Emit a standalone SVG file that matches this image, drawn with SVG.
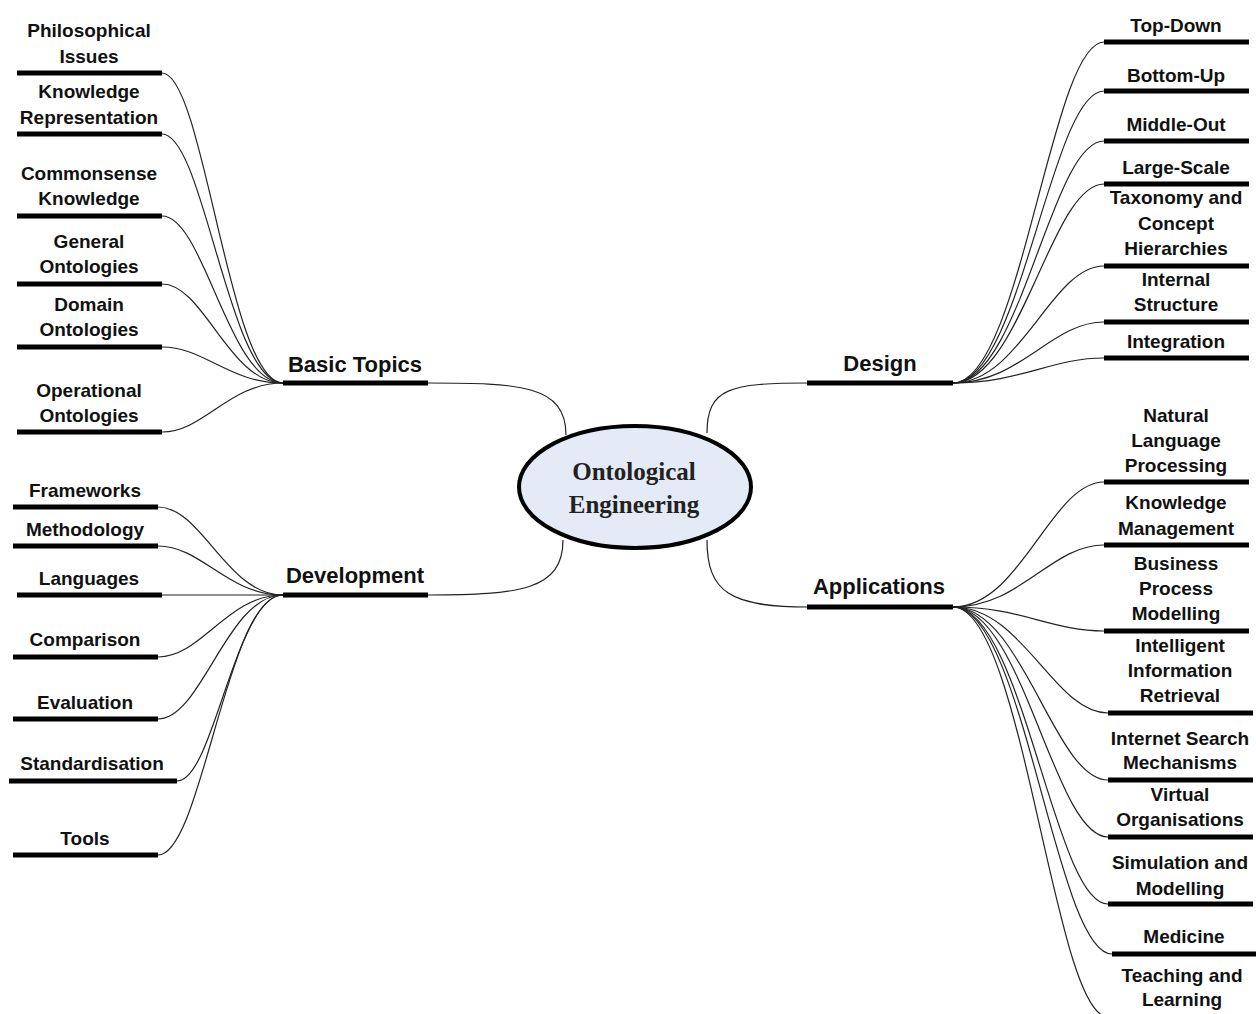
<svg xmlns="http://www.w3.org/2000/svg" width="1256" height="1014" viewBox="0 0 1256 1014">
<style>
.t{font-family:"Liberation Sans",Arial,sans-serif;font-weight:bold;font-size:19px;fill:#111;text-anchor:middle}
.b{font-family:"Liberation Sans",Arial,sans-serif;font-weight:bold;font-size:22px;fill:#111;text-anchor:middle}
.c{font-family:"Liberation Serif","Times New Roman",serif;font-weight:bold;font-size:25px;fill:#222;text-anchor:middle}
.u{stroke:#000;stroke-width:5;fill:none}
.l{stroke:#222;stroke-width:1.2;fill:none}
</style>
<rect width="1256" height="1014" fill="#fff"/>
<g id="connectors">
<path class="l" d="M428 383 C520 383 566 385 566 435"/>
<path class="l" d="M428 595 C520 595 563 590 563 540"/>
<path class="l" d="M707 433 C707 388 730 383 808 383"/>
<path class="l" d="M707 540 C707 592 730 607 808 607"/>
<path class="l" d="M162 73 C204 73 229 383 283 383"/>
<path class="l" d="M162 134 C204 134 229 383 283 383"/>
<path class="l" d="M162 216 C204 216 229 383 283 383"/>
<path class="l" d="M162 284 C204 284 229 383 283 383"/>
<path class="l" d="M162 347 C204 347 229 383 283 383"/>
<path class="l" d="M162 432 C204 432 229 383 283 383"/>
<path class="l" d="M158 507 C202 507 227 595 283 595"/>
<path class="l" d="M158 546 C202 546 227 595 283 595"/>
<path class="l" d="M162 595 L283 595"/>
<path class="l" d="M158 657 C202 657 227 595 283 595"/>
<path class="l" d="M158 719 C202 719 227 595 283 595"/>
<path class="l" d="M177 781 C214 781 235 595 283 595"/>
<path class="l" d="M158 855 C202 855 227 595 283 595"/>
<path class="l" d="M953 383 C1021 383 1051 42 1104 42"/>
<path class="l" d="M953 383 C1021 383 1051 91 1104 91"/>
<path class="l" d="M953 383 C1021 383 1051 141 1104 141"/>
<path class="l" d="M953 383 C1021 383 1051 184 1104 184"/>
<path class="l" d="M953 383 C1021 383 1051 266 1104 266"/>
<path class="l" d="M953 383 C1021 383 1051 322 1104 322"/>
<path class="l" d="M953 383 C1021 383 1051 358 1104 358"/>
<path class="l" d="M953 607 C1021 607 1051 482 1104 482"/>
<path class="l" d="M953 607 C1021 607 1051 545 1104 545"/>
<path class="l" d="M953 607 C1021 607 1051 631 1104 631"/>
<path class="l" d="M953 607 C1023 607 1054 713 1108 713"/>
<path class="l" d="M953 607 C1023 607 1054 780 1108 780"/>
<path class="l" d="M953 607 C1023 607 1054 837 1108 837"/>
<path class="l" d="M953 607 C1023 607 1054 904 1108 904"/>
<path class="l" d="M953 607 C1024 607 1056 954 1112 954"/>
<path class="l" d="M953 607 C1023 607 1054 1017 1108 1017"/>
</g>
<g id="center">
<ellipse cx="635" cy="487" rx="116" ry="61" fill="#e4ebf6" stroke="#000" stroke-width="4"/>
<text class="c" x="634" y="480">Ontological</text>
<text class="c" x="634" y="513">Engineering</text>
</g>
<g id="basic-topics"><line class="u" x1="283" y1="383" x2="428" y2="383"/><text class="b" x="355" y="372">Basic Topics</text></g>
<g id="development"><line class="u" x1="283" y1="595" x2="428" y2="595"/><text class="b" x="355" y="583">Development</text></g>
<g id="design"><line class="u" x1="807" y1="383" x2="953" y2="383"/><text class="b" x="880" y="371">Design</text></g>
<g id="applications"><line class="u" x1="807" y1="607" x2="953" y2="607"/><text class="b" x="879" y="594">Applications</text></g>

<g id="philosophical-issues"><line class="u" x1="17" y1="73" x2="162" y2="73"/><text class="t" x="89" y="37">Philosophical</text><text class="t" x="89" y="63">Issues</text></g>
<g id="knowledge-representation"><line class="u" x1="17" y1="134" x2="162" y2="134"/><text class="t" x="89" y="98">Knowledge</text><text class="t" x="89" y="124">Representation</text></g>
<g id="commonsense-knowledge"><line class="u" x1="17" y1="216" x2="162" y2="216"/><text class="t" x="89" y="180">Commonsense</text><text class="t" x="89" y="205">Knowledge</text></g>
<g id="general-ontologies"><line class="u" x1="17" y1="284" x2="162" y2="284"/><text class="t" x="89" y="248">General</text><text class="t" x="89" y="273">Ontologies</text></g>
<g id="domain-ontologies"><line class="u" x1="17" y1="347" x2="162" y2="347"/><text class="t" x="89" y="311">Domain</text><text class="t" x="89" y="336">Ontologies</text></g>
<g id="operational-ontologies"><line class="u" x1="17" y1="432" x2="162" y2="432"/><text class="t" x="89" y="397">Operational</text><text class="t" x="89" y="422">Ontologies</text></g>

<g id="frameworks"><line class="u" x1="13" y1="507" x2="158" y2="507"/><text class="t" x="85" y="497">Frameworks</text></g>
<g id="methodology"><line class="u" x1="13" y1="546" x2="158" y2="546"/><text class="t" x="85" y="536">Methodology</text></g>
<g id="languages"><line class="u" x1="17" y1="595" x2="162" y2="595"/><text class="t" x="89" y="585">Languages</text></g>
<g id="comparison"><line class="u" x1="13" y1="657" x2="158" y2="657"/><text class="t" x="85" y="646">Comparison</text></g>
<g id="evaluation"><line class="u" x1="13" y1="719" x2="158" y2="719"/><text class="t" x="85" y="709">Evaluation</text></g>
<g id="standardisation"><line class="u" x1="9" y1="781" x2="177" y2="781"/><text class="t" x="92" y="770">Standardisation</text></g>
<g id="tools"><line class="u" x1="13" y1="855" x2="158" y2="855"/><text class="t" x="85" y="845">Tools</text></g>

<g id="top-down"><line class="u" x1="1104" y1="42" x2="1249" y2="42"/><text class="t" x="1176" y="32">Top-Down</text></g>
<g id="bottom-up"><line class="u" x1="1104" y1="91" x2="1249" y2="91"/><text class="t" x="1176" y="82">Bottom-Up</text></g>
<g id="middle-out"><line class="u" x1="1104" y1="141" x2="1249" y2="141"/><text class="t" x="1176" y="131">Middle-Out</text></g>
<g id="large-scale"><line class="u" x1="1104" y1="184" x2="1249" y2="184"/><text class="t" x="1176" y="174">Large-Scale</text></g>
<g id="taxonomy"><line class="u" x1="1104" y1="266" x2="1249" y2="266"/><text class="t" x="1176" y="204">Taxonomy and</text><text class="t" x="1176" y="230">Concept</text><text class="t" x="1176" y="255">Hierarchies</text></g>
<g id="internal-structure"><line class="u" x1="1104" y1="322" x2="1249" y2="322"/><text class="t" x="1176" y="286">Internal</text><text class="t" x="1176" y="311">Structure</text></g>
<g id="integration"><line class="u" x1="1104" y1="358" x2="1249" y2="358"/><text class="t" x="1176" y="348">Integration</text></g>

<g id="nlp"><line class="u" x1="1104" y1="482" x2="1249" y2="482"/><text class="t" x="1176" y="422">Natural</text><text class="t" x="1176" y="447">Language</text><text class="t" x="1176" y="472">Processing</text></g>
<g id="knowledge-management"><line class="u" x1="1104" y1="545" x2="1249" y2="545"/><text class="t" x="1176" y="509">Knowledge</text><text class="t" x="1176" y="535">Management</text></g>
<g id="business-process-modelling"><line class="u" x1="1104" y1="631" x2="1249" y2="631"/><text class="t" x="1176" y="570">Business</text><text class="t" x="1176" y="595">Process</text><text class="t" x="1176" y="620">Modelling</text></g>
<g id="intelligent-information-retrieval"><line class="u" x1="1108" y1="713" x2="1253" y2="713"/><text class="t" x="1180" y="652">Intelligent</text><text class="t" x="1180" y="677">Information</text><text class="t" x="1180" y="702">Retrieval</text></g>
<g id="internet-search"><line class="u" x1="1108" y1="780" x2="1253" y2="780"/><text class="t" x="1180" y="745">Internet Search</text><text class="t" x="1180" y="769">Mechanisms</text></g>
<g id="virtual-organisations"><line class="u" x1="1108" y1="837" x2="1253" y2="837"/><text class="t" x="1180" y="801">Virtual</text><text class="t" x="1180" y="826">Organisations</text></g>
<g id="simulation-modelling"><line class="u" x1="1108" y1="904" x2="1253" y2="904"/><text class="t" x="1180" y="869">Simulation and</text><text class="t" x="1180" y="895">Modelling</text></g>
<g id="medicine"><line class="u" x1="1112" y1="954" x2="1256" y2="954"/><text class="t" x="1184" y="943">Medicine</text></g>
<g id="teaching-learning"><line class="u" x1="1108" y1="1017" x2="1253" y2="1017"/><text class="t" x="1182" y="982">Teaching and</text><text class="t" x="1182" y="1006">Learning</text></g>
</svg>
